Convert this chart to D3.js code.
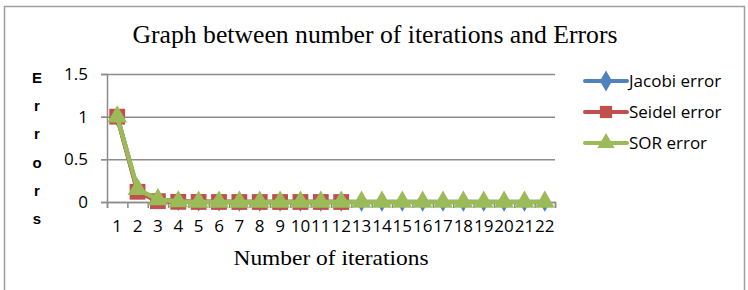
<!DOCTYPE html>
<html>
<head>
<meta charset="utf-8">
<script src="https://cdn.jsdelivr.net/npm/d3@7"></script>
<style>
  body { margin: 0; background: #fff; }
  svg { display: block; }
  .tick text { font-family: "Open Sans", sans-serif; font-size: 17px; fill: #000; }
</style>
</head>
<body>
<svg id="chart" width="748" height="290"></svg>
<script>
// iterations 1..22
const iterations = d3.range(1, 23);
const jacobiError = [1, 0.14, 0.03, 0.01, 0.004, 0.002, 0.001, 0.0005, 0.0003, 0.0002, 0.0001, 0.00005,
    0.00003, 0.00002, 0.00001, 0.00001, 0, 0, 0, 0, 0, 0];
const seidelError = [1, 0.12, 0.01, 0.002, 0.0005, 0.0001, 0.00003, 0.00001, 0, 0, 0, 0];
const sorError = [1, 0.15, 0.03, 0.005, 0.001, 0.0003, 0.0001, 0.00003, 0.00001, 0, 0, 0,
    0, 0, 0, 0, 0, 0, 0, 0, 0, 0];
const yTicks = [0, 0.5, 1, 1.5];

const seriesList = [
    {name: 'Jacobi error', values: jacobiError, color: '#4f81bd', marker: d3.symbolDiamond, size: 110},
    {name: 'Seidel error', values: seidelError, color: '#c0504d', marker: d3.symbolSquare, size: 250},
    {name: 'SOR error', values: sorError, color: '#9bbb59', marker: d3.symbolTriangle, size: 170}
];

const svg = d3.select('#chart');

// chart frame
svg.append('rect')
    .attr('x', 4.5).attr('y', 6.5)
    .attr('width', 740).attr('height', 300)
    .attr('fill', '#fff')
    .attr('stroke', '#a0a0a0')
    .attr('stroke-width', 1.5);

const plotLeft = 107, plotRight = 555, plotTop = 74, plotBottom = 202;

const xScale = d3.scaleBand()
    .domain(iterations)
    .range([plotLeft, plotRight]);

const yScale = d3.scaleLinear()
    .domain([0, 1.5])
    .range([plotBottom, plotTop]);

// gridlines
svg.append('g')
    .attr('transform', 'translate(101,0)')
    .call(d3.axisRight(yScale).tickValues(yTicks).tickSize(plotRight - 101).tickFormat(''))
    .call(g => g.select('.domain').remove())
    .call(g => g.selectAll('line').attr('stroke', '#8c8c8c').attr('stroke-width', 1.5));

// y axis
svg.append('g')
    .attr('transform', 'translate(' + plotLeft + ',0)')
    .call(d3.axisLeft(yScale).tickValues(yTicks).tickSize(6).tickPadding(13).tickFormat(d3.format('')))
    .call(g => g.select('.domain').attr('stroke', '#8c8c8c').attr('stroke-width', 1.5))
    .call(g => g.selectAll('line').attr('stroke', '#8c8c8c'));

// x axis ticks at category boundaries
const xEdge = d3.scaleLinear().domain([0, 22]).range([plotLeft, plotRight]);
svg.append('g')
    .attr('transform', 'translate(0,' + plotBottom + ')')
    .call(d3.axisBottom(xEdge).tickValues(d3.range(0, 23)).tickSize(6).tickFormat(''))
    .call(g => g.select('.domain').attr('stroke', '#8c8c8c').attr('stroke-width', 1.5))
    .call(g => g.selectAll('line').attr('stroke', '#8c8c8c').attr('stroke-width', 1.5));

// x axis labels
svg.append('g')
    .attr('transform', 'translate(0,' + plotBottom + ')')
    .call(d3.axisBottom(xScale).tickSize(0).tickPadding(18))
    .call(g => g.select('.domain').remove());

// series
const line = d3.line()
    .x((d, i) => xScale(iterations[i]) + xScale.bandwidth() / 2)
    .y(d => yScale(d));

seriesList.forEach(s => {
    const g = svg.append('g');
    g.append('path')
        .datum(s.values)
        .attr('d', line)
        .attr('fill', 'none')
        .attr('stroke', s.color)
        .attr('stroke-width', 4.5)
        .attr('stroke-linejoin', 'round');
    g.selectAll('path.mk')
        .data(s.values)
        .enter()
        .append('path')
        .attr('class', 'mk')
        .attr('d', d3.symbol().type(s.marker).size(s.size))
        .attr('transform', (d, i) => 'translate(' + (xScale(iterations[i]) + xScale.bandwidth() / 2) + ',' + yScale(d) + ')')
        .attr('fill', s.color);
});

// title
svg.append('text')
    .attr('x', 375).attr('y', 43)
    .attr('text-anchor', 'middle')
    .attr('font-family', 'Liberation Serif, serif')
    .attr('font-size', 25)
    .attr('textLength', 485)
    .attr('lengthAdjust', 'spacingAndGlyphs')
    .text('Graph between number of iterations and Errors');

// x axis title
svg.append('text')
    .attr('x', 331).attr('y', 265)
    .attr('text-anchor', 'middle')
    .attr('font-family', 'Liberation Serif, serif')
    .attr('font-size', 21)
    .attr('textLength', 195)
    .attr('lengthAdjust', 'spacingAndGlyphs')
    .text('Number of iterations');

// y axis title, one letter per row
const yTitle = 'Errors'.split('');
svg.append('g')
    .selectAll('text')
    .data(yTitle)
    .enter()
    .append('text')
    .attr('x', 37)
    .attr('y', (d, i) => 83 + i * 28.2)
    .attr('text-anchor', 'middle')
    .attr('font-family', 'Liberation Sans, sans-serif')
    .attr('font-weight', 'bold')
    .attr('font-size', 15)
    .text(d => d);

// legend
const legend = svg.append('g');
seriesList.forEach((s, i) => {
    const y = 81 + i * 31;
    legend.append('line')
        .attr('x1', 585).attr('x2', 627)
        .attr('y1', y).attr('y2', y)
        .attr('stroke', s.color)
        .attr('stroke-width', 4)
        .attr('stroke-linecap', 'round');
    legend.append('path')
        .attr('d', d3.symbol().type(s.marker).size(s.marker === d3.symbolSquare ? 150 : 130))
        .attr('transform', 'translate(606,' + y + ')')
        .attr('fill', s.color);
    legend.append('text')
        .attr('x', 629).attr('y', y + 6)
        .attr('font-family', 'Open Sans, sans-serif')
        .attr('font-size', 17)
        .text(s.name);
});
</script>
</body>
</html>
